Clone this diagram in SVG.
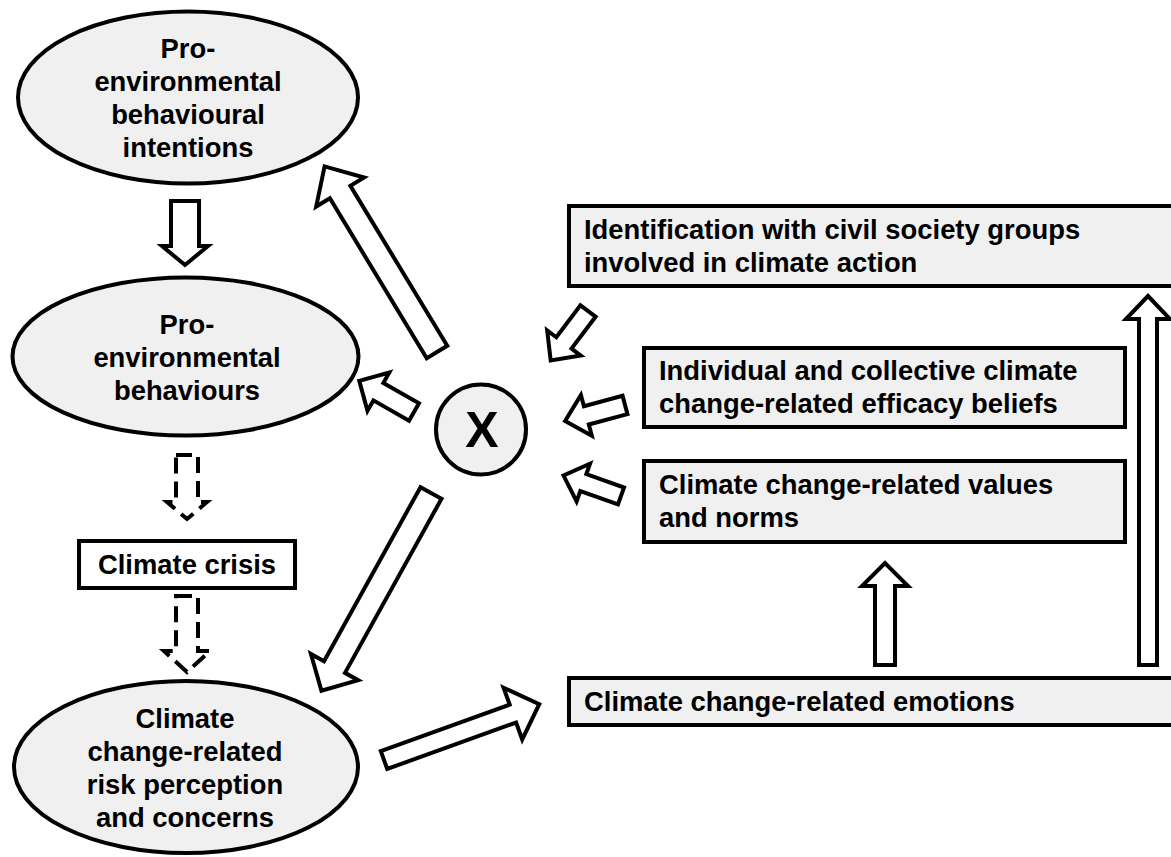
<svg xmlns="http://www.w3.org/2000/svg" width="1171" height="857" viewBox="0 0 1171 857">
<style>
.node{fill:#f0f0f0;stroke:#000;stroke-width:4}
.plain{fill:#fff;stroke:#000;stroke-width:4}
.arr{fill:#fff;stroke:#000;stroke-width:4;stroke-linejoin:miter}
.dash{fill:#fff;stroke:#000;stroke-width:4;stroke-dasharray:16 8}
text{font-family:"Liberation Sans",Arial,sans-serif;font-weight:bold;font-size:27.4px;fill:#000}
.c{text-anchor:middle}
</style>
<rect width="1171" height="857" fill="#fff"/>
<g id="connectors">
<polygon class="arr" transform="translate(437,352) rotate(-121.2)" points="0,-12 187,-12 187,-28 217,0 187,28 187,12 0,12"/>
<polygon class="arr" transform="translate(414,412) rotate(-150.3)" points="0,-10 41,-10 41,-22 63,0 41,22 41,10 0,10"/>
<polygon class="arr" transform="translate(588,311) rotate(127)" points="0,-9.5 40,-9.5 40,-21 62,0 40,21 40,9.5 0,9.5"/>
<polygon class="arr" transform="translate(625,405) rotate(165)" points="0,-9.5 40,-9.5 40,-21 62,0 40,21 40,9.5 0,9.5"/>
<polygon class="arr" transform="translate(621,496) rotate(-160.4)" points="0,-9 40,-9 40,-20 61,0 40,20 40,9 0,9"/>
<polygon class="arr" transform="translate(431,493) rotate(119)" points="0,-12 199,-12 199,-27 226,0 199,27 199,12 0,12"/>
<polygon class="arr" transform="translate(384,760) rotate(-19.8)" points="0,-9.5 137,-9.5 137,-27.5 165,0 137,27.5 137,9.5 0,9.5"/>
<polygon class="arr" points="171,201 199,201 199,246 208,246 185,265 162,246 171,246"/>
<polygon class="arr" points="875,665 875,586 862,586 885,563 908,586 895,586 895,665"/>
<polygon class="arr" points="1139,665 1139,319 1126,319 1148,296 1170,319 1157,319 1157,665"/>
<polygon class="dash" points="176,455 198,455 198,502 207,502 187,519 167,502 176,502"/>
<polygon class="dash" points="176,596 198,596 198,651 210,651 187,672 164,651 176,651"/>
</g>
<g id="intentions">
<ellipse class="node" cx="188" cy="97.5" rx="170" ry="86"/>
<text class="c" x="188" y="58">Pro-</text>
<text class="c" x="188" y="91">environmental</text>
<text class="c" x="188" y="124">behavioural</text>
<text class="c" x="188" y="157">intentions</text>
</g>
<g id="behaviours">
<ellipse class="node" cx="185.5" cy="356.5" rx="173" ry="79"/>
<text class="c" x="187" y="334">Pro-</text>
<text class="c" x="187" y="367">environmental</text>
<text class="c" x="187" y="400">behaviours</text>
</g>
<g id="crisis">
<rect class="plain" x="79" y="541" width="216" height="47"/>
<text class="c" x="187" y="574">Climate crisis</text>
</g>
<g id="risk">
<ellipse class="node" cx="186" cy="767" rx="172" ry="86"/>
<text class="c" x="185" y="728">Climate</text>
<text class="c" x="185" y="761">change-related</text>
<text class="c" x="185" y="794">risk perception</text>
<text class="c" x="185" y="827">and concerns</text>
</g>
<g id="x">
<circle class="node" cx="481" cy="429.5" r="45"/>
<text class="c" x="482" y="447" style="font-size:50px">X</text>
</g>
<g id="identification">
<rect class="node" x="569" y="206" width="620" height="80"/>
<text x="584" y="239">Identification with civil society groups</text>
<text x="584" y="272">involved in climate action</text>
</g>
<g id="efficacy">
<rect class="node" x="644" y="348" width="481" height="79"/>
<text x="659" y="380">Individual and collective climate</text>
<text x="659" y="413">change-related efficacy beliefs</text>
</g>
<g id="values">
<rect class="node" x="644" y="461" width="481" height="81"/>
<text x="659" y="494">Climate change-related values</text>
<text x="659" y="527">and norms</text>
</g>
<g id="emotions">
<rect class="node" x="569" y="678" width="620" height="47"/>
<text x="584" y="711">Climate change-related emotions</text>
</g>
</svg>
